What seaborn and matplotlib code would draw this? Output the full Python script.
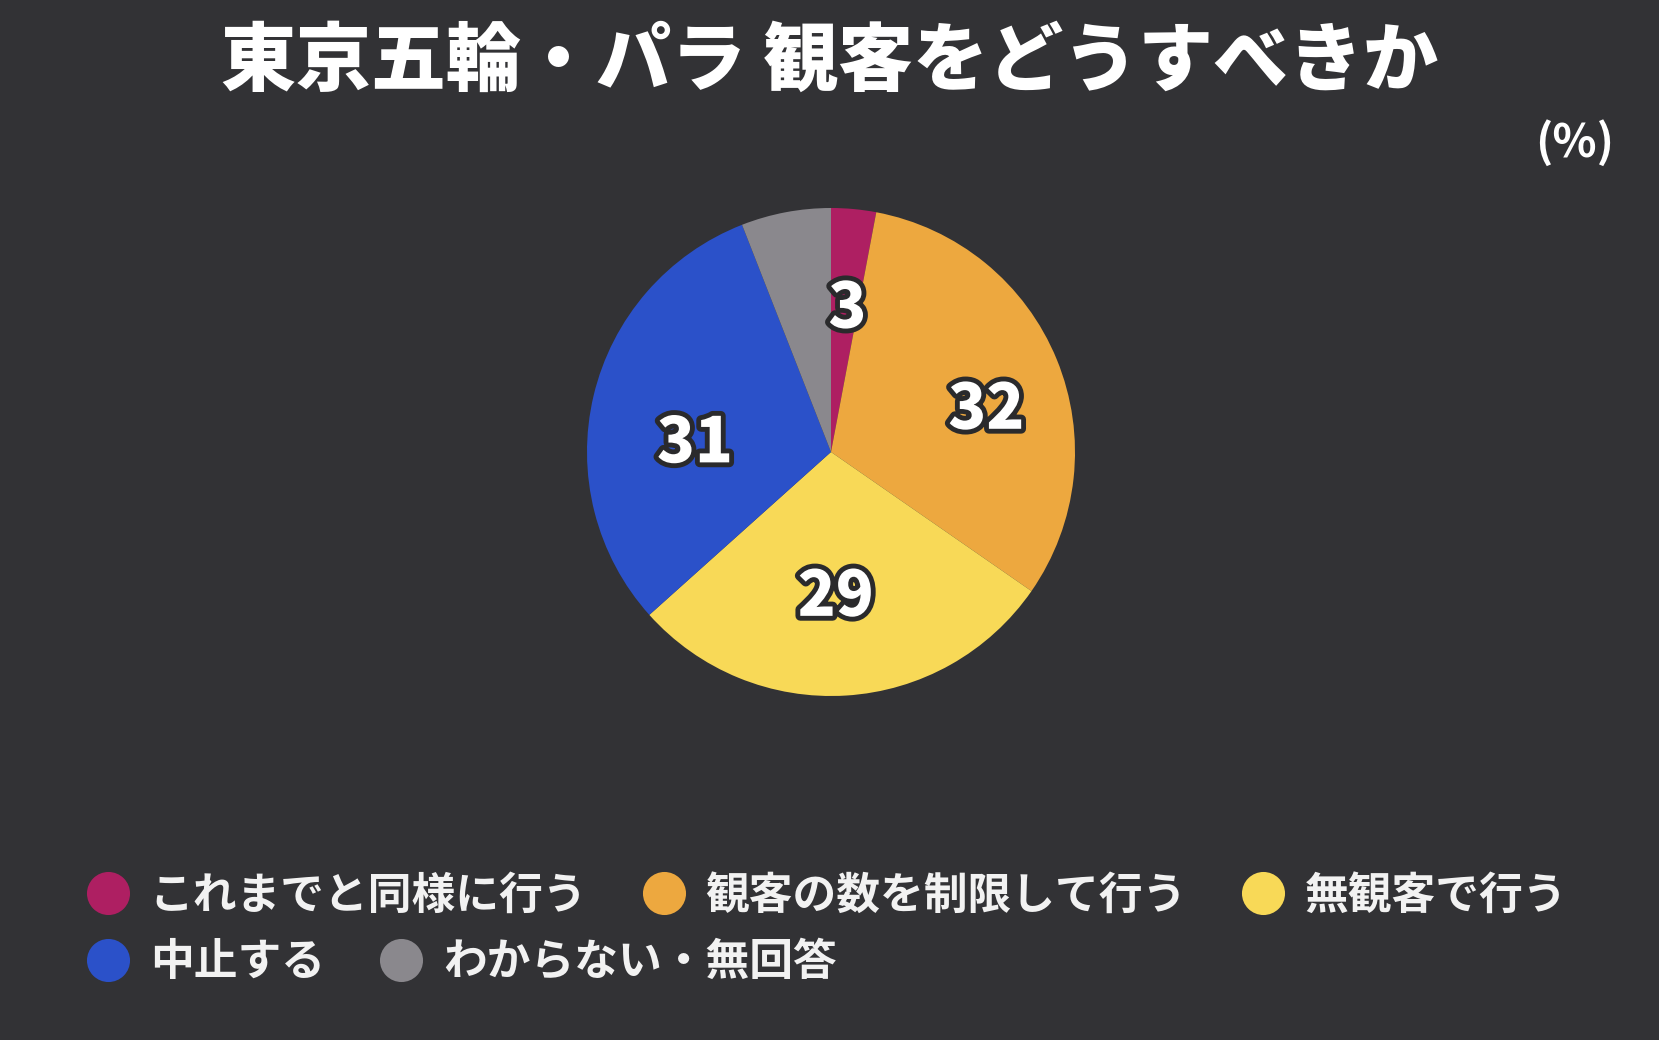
import matplotlib
matplotlib.use('Agg')
import matplotlib.pyplot as plt
import matplotlib.patheffects as pe
from matplotlib.lines import Line2D
import numpy as np
import seaborn as sns

# データ
categories = ['これまでと同様に行う', '観客の数を制限して行う', '無観客で行う', '中止する', 'わからない・無回答']
values = [3, 32, 29, 31, 6]
shown_labels = ['3', '32', '29', '31', '']
label_dist = [0.61, 0.665, 0.575, 0.56, 0.6]
label_turn = [1.0, 5.5, 1.6, -7.8, 0.0]  # 時計回りのずれ（度）
colors = ['#AE1F62', '#EDA83F', '#F8D957', '#2B51C9', '#8A888D']

sns.set_theme(style='dark')
plt.rcParams['font.family'] = ['Noto Sans CJK JP', 'DejaVu Sans']

bg = '#323235'
fig = plt.figure(figsize=(16.59, 10.4), dpi=100, facecolor=bg)

# 円グラフ
ax = fig.add_axes([(831 - 244) / 1659, 1 - (452 + 244) / 1040, 488 / 1659, 488 / 1040])
ax.set_facecolor(bg)
wedges, _ = ax.pie(values, colors=sns.color_palette(colors), startangle=90,
                   counterclock=False, radius=1,
                   wedgeprops=dict(linewidth=0))
ax.set_xlim(-1, 1)
ax.set_ylim(-1, 1)
ax.set_aspect('auto')
ax.axis('off')

# 数値ラベル
for w, lab, d, t in zip(wedges, shown_labels, label_dist, label_turn):
    if not lab:
        continue
    ang = np.deg2rad((w.theta1 + w.theta2) / 2 - t)
    ax.text(d * np.cos(ang), d * np.sin(ang) - 0.02, lab, ha='center', va='center',
            fontsize=45, fontweight='heavy', color='white',
            path_effects=[pe.withStroke(linewidth=7, foreground='#2a2a2c')])

# タイトル
fig.text(0.5, 0.94, '東京五輪・パラ 観客をどうすべきか', ha='center', va='center',
         fontsize=54, fontweight='heavy', color='white')
fig.text(0.949, 0.862, '(%)', ha='center', va='center',
         fontsize=33, fontweight='bold', color='white')

# 凡例（2行）
handles = [Line2D([], [], marker='o', linestyle='none', markersize=31,
                  markerfacecolor=c, markeredgewidth=0) for c in colors]
leg_kw = dict(frameon=False, handletextpad=0.45, columnspacing=1.25,
              handlelength=1.0, labelcolor='#F2F2F2', borderpad=0, borderaxespad=0,
              prop=dict(weight='bold', size=31.5))
leg1 = fig.legend(handles[:3], categories[:3], ncol=3, loc='center left',
                  bbox_to_anchor=(0.052, 0.139), **leg_kw)
leg2 = fig.legend(handles[3:], categories[3:], ncol=2, loc='center left',
                  bbox_to_anchor=(0.052, 0.075), **leg_kw)

fig.savefig('out.png', dpi=100, facecolor=bg)
